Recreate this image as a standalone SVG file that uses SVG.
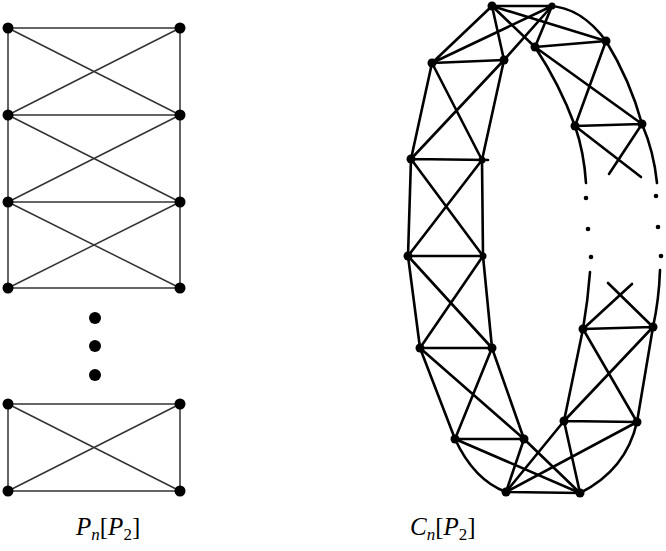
<svg xmlns="http://www.w3.org/2000/svg" width="666" height="551" viewBox="0 0 666 551">
<style>
.l{stroke:#333;stroke-width:1.5;fill:none}
.r{stroke:#000;stroke-width:2.6;fill:none;stroke-linecap:round}
.n{fill:#000}
.lab{font-family:"Liberation Serif",serif;font-size:25px;font-style:italic;fill:#000}
.up{font-style:normal}
</style>
<rect width="666" height="551" fill="#fff"/>
<g id="left-edges">
<path class="l" d="M8,28H180M8,115H180M8,202H180M8,288H180M8,404H180M8,491H180"/>
<path class="l" d="M8,28V288M180,28V288M8,404V491M180,404V491"/>
<path class="l" d="M8,28L180,115M180,28L8,115M8,115L180,202M180,115L8,202M8,202L180,288M180,202L8,288M8,404L180,491M180,404L8,491"/>
</g>
<g id="left-nodes">
<circle class="n" cx="8" cy="28" r="5.5"/><circle class="n" cx="180" cy="28" r="5.5"/>
<circle class="n" cx="8" cy="115" r="5.5"/><circle class="n" cx="180" cy="115" r="5.5"/>
<circle class="n" cx="8" cy="202" r="5.5"/><circle class="n" cx="180" cy="202" r="5.5"/>
<circle class="n" cx="8" cy="288" r="5.5"/><circle class="n" cx="180" cy="288" r="5.5"/>
<circle class="n" cx="8" cy="404" r="5.5"/><circle class="n" cx="180" cy="404" r="5.5"/>
<circle class="n" cx="8" cy="491" r="5.5"/><circle class="n" cx="180" cy="491" r="5.5"/>
<circle class="n" cx="95" cy="318" r="6"/><circle class="n" cx="95" cy="346" r="6"/><circle class="n" cx="95" cy="375" r="6"/>
</g>
<g id="right-edges">
<path class="r" d="M492,6L552,6M492,6L432,63M492,6L504,60M552,6L432,63M552,6L504,60"/>
<path class="r" d="M492,6L606,41M492,6L535,47M552,6L535,47M548,6C572,6 592,22 606,41"/>
<path class="r" d="M432,63L504,60M432,63L411,159M504,60L482,160M432,63L482,160M504,60L411,159"/>
<path class="r" d="M411,159L488,160M411,159L408,256M482,160L483,256M411,159L483,256M482,160L408,256"/>
<path class="r" d="M408,256L483,256M408,256L420,348M483,256L492,348M408,256L492,348M483,256L420,348"/>
<path class="r" d="M420,348L492,348M420,348L455,439M492,348L524,439M420,348L524,439M492,348L455,439"/>
<path class="r" d="M455,439L524,439M455,439Q474,480 506,492M455,439L580,493M524,439L506,492M524,439L580,493"/>
<path class="r" d="M506,492L580,493M506,492L564,421M506,492L637,422M580,493L564,421M580,493Q626,470 637,422"/>
<path class="r" d="M564,421L637,422M564,421L583,329M637,422L653,327M564,421L653,327M637,422L583,329"/>
<path class="r" d="M583,329L653,327M583,329Q588,300 590,272M653,327Q659,300 660,270M583,329L632,284M653,327L608,283"/>
<path class="r" d="M535,47L606,41M535,47Q560,85 575,126M606,41Q630,80 642,124M535,47L642,124M606,41L575,126"/>
<path class="r" d="M575,126L642,124M575,126Q584,152 586,183M642,124Q654,152 657,183M575,126L641,177M642,124L609,174"/>
</g>
<g id="right-nodes">
<circle class="n" cx="492" cy="6" r="4.5"/><circle class="n" cx="552" cy="6" r="3.5"/>
<circle class="n" cx="432" cy="63" r="4.5"/><circle class="n" cx="504" cy="60" r="4.5"/>
<circle class="n" cx="411" cy="159" r="4.5"/><circle class="n" cx="482" cy="160" r="3.5"/>
<circle class="n" cx="408" cy="256" r="4.5"/><circle class="n" cx="483" cy="256" r="3.5"/>
<circle class="n" cx="420" cy="348" r="4.5"/><circle class="n" cx="492" cy="348" r="4.5"/>
<circle class="n" cx="455" cy="439" r="4.5"/><circle class="n" cx="524" cy="439" r="4.5"/>
<circle class="n" cx="506" cy="492" r="4.5"/><circle class="n" cx="580" cy="493" r="4.5"/>
<circle class="n" cx="564" cy="421" r="4.5"/><circle class="n" cx="637" cy="422" r="4.5"/>
<circle class="n" cx="583" cy="329" r="4.5"/><circle class="n" cx="653" cy="327" r="4.5"/>
<circle class="n" cx="535" cy="47" r="4.5"/><circle class="n" cx="606" cy="41" r="4.5"/>
<circle class="n" cx="575" cy="126" r="4.5"/><circle class="n" cx="642" cy="124" r="4.5"/>
<circle class="n" cx="586" cy="198" r="2.3"/><circle class="n" cx="656" cy="196" r="2.3"/>
<circle class="n" cx="588" cy="229" r="2.3"/><circle class="n" cx="658" cy="227" r="2.3"/>
<circle class="n" cx="591" cy="257" r="2.3"/><circle class="n" cx="661" cy="256" r="2.3"/>
</g>
<g id="labels">
<text class="lab" x="76" y="535">P<tspan font-size="17" dy="5">n</tspan><tspan class="up" dy="-5">[</tspan>P<tspan class="up" font-size="17" dy="5">2</tspan><tspan class="up" dy="-5">]</tspan></text>
<text class="lab" x="410" y="535">C<tspan font-size="17" dy="5">n</tspan><tspan class="up" dy="-5">[</tspan>P<tspan class="up" font-size="17" dy="5">2</tspan><tspan class="up" dy="-5">]</tspan></text>
</g>
</svg>
